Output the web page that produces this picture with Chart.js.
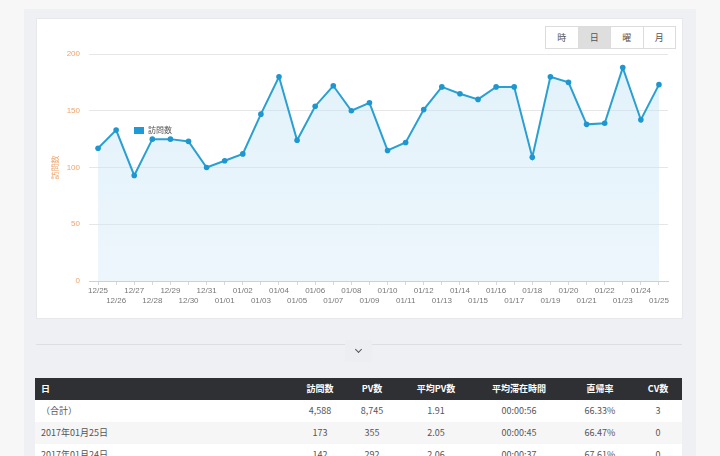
<!DOCTYPE html>
<html><head><meta charset="utf-8">
<script src="https://cdn.jsdelivr.net/npm/chart.js@4/dist/chart.umd.min.js"></script>
<style>
html,body{margin:0;padding:0;width:720px;height:456px;overflow:hidden;background:#f7f7f8;font-family:'Liberation Sans','Noto Sans CJK JP',sans-serif;}
#panel{position:absolute;left:24px;top:9px;width:672px;height:460px;background:#eef0f3;}
#card{position:absolute;left:36px;top:18px;width:645px;height:299px;background:#fff;border:1px solid #e6e8eb;}
#wrap{position:absolute;left:36px;top:18px;width:646px;height:300px;}
#btns{position:absolute;left:545px;top:26px;width:129px;height:21px;border:1px solid #dcdcdc;display:flex;background:#fff;}
#btns div{flex:1;text-align:center;line-height:21px;font-size:9px;color:#555;border-left:1px solid #dcdcdc;font-family:'Noto Sans CJK JP',sans-serif;}
#btns div:first-child{border-left:none;}
#btns div.on{background:#dedede;}
#legend{position:absolute;left:134px;top:125px;font-size:8px;color:#555;font-family:'Noto Sans CJK JP',sans-serif;line-height:9px;}
#legend span{display:inline-block;width:10px;height:7px;background:#1e9ad6;vertical-align:-1px;margin-right:4px;}
#sep{position:absolute;left:36px;top:344px;width:646px;height:1px;background:#dcdee2;}
#tog{position:absolute;left:345px;top:340px;width:27px;height:22px;background:#eceef1;}
#tog i{position:absolute;left:11px;top:7px;width:4px;height:4px;border-right:1.3px solid #555;border-bottom:1.3px solid #555;transform:rotate(45deg);}
#tbl{position:absolute;left:35px;top:378px;width:647px;}
.row{position:relative;height:22px;font-size:9px;color:#555;font-family:'Noto Sans CJK JP',sans-serif;}
.row.h{background:#2f3033;color:#fff;font-weight:bold;height:22px;}
.row.a{background:#fff;}
.row.b{background:#f6f6f7;}
.row span{position:absolute;top:0;line-height:22px;transform:translateX(-50%);white-space:nowrap;}
.row span.l{transform:none;left:6px;}
</style></head>
<body>
<div id="panel"></div>
<div id="card"></div>
<div id="wrap"><canvas id="c"></canvas></div>
<div id="btns"><div>時</div><div class="on">日</div><div>曜</div><div>月</div></div>
<div id="legend"><span></span>訪問数</div>
<div id="sep"></div>
<div id="tog"><i></i></div>
<div id="tbl">
 <div class="row h"><span class="l">日</span><span style="left:285px">訪問数</span><span style="left:337px">PV数</span><span style="left:401px">平均PV数</span><span style="left:484px">平均滞在時間</span><span style="left:565px">直帰率</span><span style="left:623px">CV数</span></div>
 <div class="row a"><span class="l">（合計）</span><span style="left:285px">4,588</span><span style="left:337px">8,745</span><span style="left:401px">1.91</span><span style="left:484px">00:00:56</span><span style="left:565px">66.33%</span><span style="left:623px">3</span></div>
 <div class="row b"><span class="l">2017年01月25日</span><span style="left:285px">173</span><span style="left:337px">355</span><span style="left:401px">2.05</span><span style="left:484px">00:00:45</span><span style="left:565px">66.47%</span><span style="left:623px">0</span></div>
 <div class="row a"><span class="l">2017年01月24日</span><span style="left:285px">142</span><span style="left:337px">292</span><span style="left:401px">2.06</span><span style="left:484px">00:00:37</span><span style="left:565px">67.61%</span><span style="left:623px">0</span></div>
</div>
<script>
const dateLabels = ['12/25','12/26','12/27','12/28','12/29','12/30','12/31','01/01','01/02','01/03','01/04','01/05','01/06','01/07','01/08','01/09','01/10','01/11','01/12','01/13','01/14','01/15','01/16','01/17','01/18','01/19','01/20','01/21','01/22','01/23','01/24','01/25'];
const visits = [117,133,93,125,125,123,100,106,112,147,180,124,154,172,150,157,115,122,151,171,165,160,171,171,109,180,175,138,139,188,142,173];
const yTicks = [0,50,100,150,200];
const seriesName = '訪問数';

const orange = '#eea56f';
Chart.defaults.font.family = "'Liberation Sans','Noto Sans CJK JP',sans-serif";
new Chart(document.getElementById('c'), {
  type: 'line',
  data: {
    labels: dateLabels,
    datasets: [{
      label: seriesName,
      data: visits,
      borderColor: '#2aa0d2',
      borderWidth: 2,
      pointRadius: 2.8,
      pointBackgroundColor: '#1e96cf',
      pointBorderColor: '#1e96cf',
      pointBorderWidth: 0,
      tension: 0,
      fill: 'origin',
      backgroundColor: (ctx) => {
        const a = ctx.chart.chartArea;
        if (!a) return 'rgba(200,228,244,0.4)';
        const g = ctx.chart.ctx.createLinearGradient(0, a.top, 0, a.bottom);
        g.addColorStop(0, 'rgba(190,225,245,0.45)');
        g.addColorStop(1, 'rgba(215,235,247,0.45)');
        return g;
      }
    }]
  },
  options: {
    responsive: true,
    maintainAspectRatio: false,
    animation: false,
    events: [],
    layout: { padding: { left: 12, right: 14, top: 36, bottom: 0 } },
    plugins: { legend: { display: false }, tooltip: { enabled: false } },
    scales: {
      x: {
        offset: true,
        grid: { display: true, drawOnChartArea: false, tickLength: 4, color: '#d8d8d8' },
        border: { display: true, color: '#d0d0d0' },
        ticks: {
          autoSkip: false, maxRotation: 0, minRotation: 0, padding: 1,
          color: '#777', font: { size: 8 },
          callback: (v, i) => i % 2 === 0 ? [dateLabels[i], ''] : ['', dateLabels[i]]
        },
        afterFit: (s) => { s.height = 37; }
      },
      y: {
        min: 0, max: 200,
        afterBuildTicks: (s) => { s.ticks = yTicks.map(v => ({ value: v })); },
        grid: { color: '#e6e6e6', drawTicks: false },
        border: { display: false },
        ticks: { color: orange, padding: 9, font: { size: 8 } },
        title: { display: true, text: seriesName, color: orange, font: { size: 8 }, padding: { top: 3, bottom: 0 } },
        afterFit: (s) => { s.width = 41; }
      }
    }
  }
});
</script>
</body></html>
